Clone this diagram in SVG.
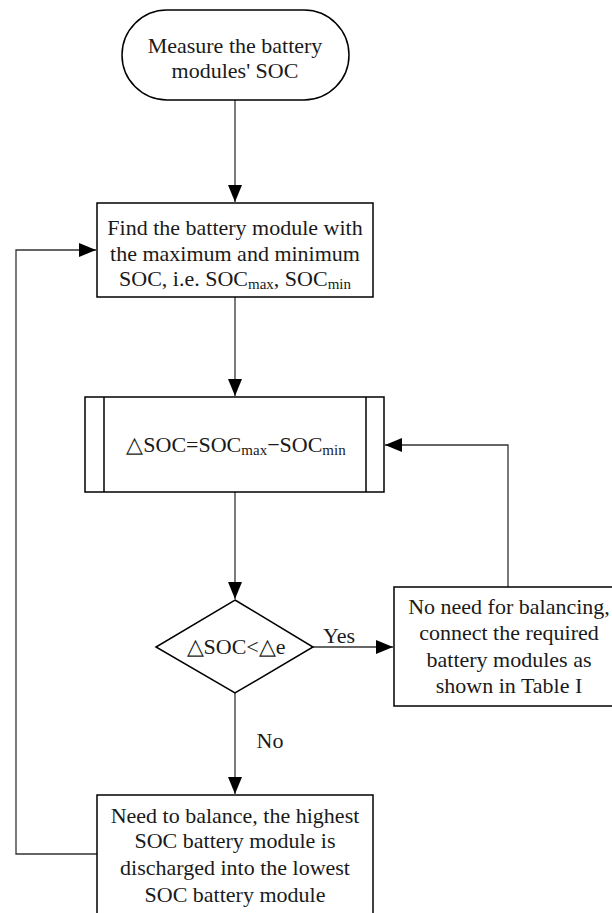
<svg xmlns="http://www.w3.org/2000/svg" width="612" height="913" viewBox="0 0 612 913">
<style>
.n{fill:#fff;stroke:#000;stroke-width:1.5}
.t{font-family:'Liberation Serif','Times New Roman',serif;font-size:22px;fill:#1a1a1a;text-anchor:middle}
.s{font-size:15px}
.c{fill:none;stroke:#333;stroke-width:1.3}
</style>
<defs>
<marker id="a" markerUnits="userSpaceOnUse" markerWidth="18" markerHeight="14" refX="17" refY="7" orient="auto">
<path d="M0,0 L17,7 L0,14 Z" fill="#000"/>
</marker>
</defs>
<rect width="612" height="913" fill="#fff"/>
<g id="connectors">
<path class="c" d="M235,100 V202" marker-end="url(#a)"/>
<path class="c" d="M235,297 V396" marker-end="url(#a)"/>
<path class="c" d="M235,492 V599" marker-end="url(#a)"/>
<path class="c" d="M235,693 V794" marker-end="url(#a)"/>
<path class="c" d="M313,647 H393" marker-end="url(#a)"/>
<path class="c" d="M508,587 V445 H385" marker-end="url(#a)"/>
<path class="c" d="M97,854 H16 V250 H96" marker-end="url(#a)"/>
</g>
<g id="start">
<rect class="n" x="122" y="10" width="227" height="90" rx="45" ry="45"/>
<text class="t" x="235" y="53">Measure the battery</text>
<text class="t" x="235" y="78">modules' SOC</text>
</g>
<g id="find">
<rect class="n" x="97" y="203" width="276" height="94"/>
<text class="t" x="235" y="235">Find the battery module with</text>
<text class="t" x="235" y="261">the maximum and minimum</text>
<text class="t" x="235" y="286">SOC, i.e. SOC<tspan class="s" dy="3">max</tspan><tspan dy="-3">, SOC</tspan><tspan class="s" dy="3">min</tspan></text>
</g>
<g id="delta">
<rect class="n" x="85" y="397" width="299" height="95"/>
<line class="n" x1="104" y1="397" x2="104" y2="492"/>
<line class="n" x1="366" y1="397" x2="366" y2="492"/>
<text class="t" x="236" y="452">△SOC=SOC<tspan class="s" dy="3">max</tspan><tspan dy="-3">−SOC</tspan><tspan class="s" dy="3">min</tspan></text>
</g>
<g id="decision">
<polygon class="n" points="235,600 313,647 235,693 156,647"/>
<text class="t" x="236" y="654">△SOC&lt;△e</text>
</g>
<g id="yes-label"><text class="t" x="339" y="643">Yes</text></g>
<g id="no-label"><text class="t" x="270" y="748">No</text></g>
<g id="nobalance">
<rect class="n" x="394" y="587" width="230" height="119"/>
<text class="t" x="509" y="614">No need for balancing,</text>
<text class="t" x="509" y="640">connect the required</text>
<text class="t" x="509" y="667">battery modules as</text>
<text class="t" x="509" y="693">shown in Table I</text>
</g>
<g id="balance">
<rect class="n" x="97" y="795" width="276" height="130"/>
<text class="t" x="235" y="823">Need to balance, the highest</text>
<text class="t" x="235" y="848">SOC battery module is</text>
<text class="t" x="235" y="875">discharged into the lowest</text>
<text class="t" x="235" y="902">SOC battery module</text>
</g>
</svg>
